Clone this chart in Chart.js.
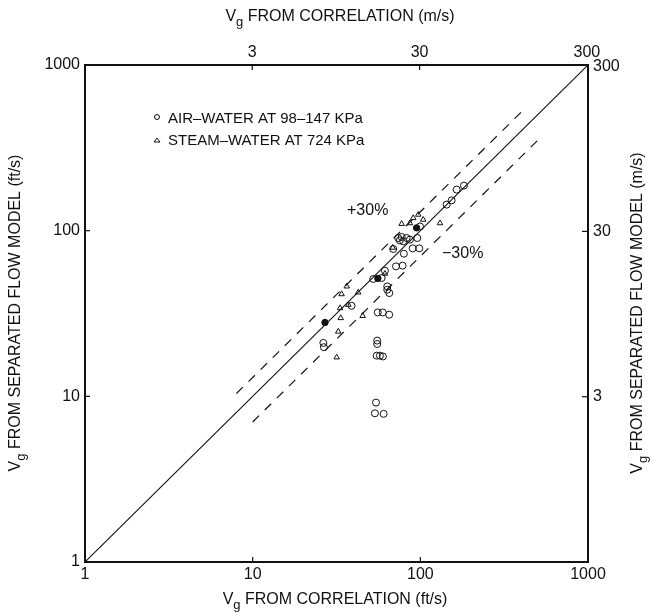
<!DOCTYPE html>
<html>
<head>
<meta charset="utf-8">
<script src="https://cdn.jsdelivr.net/npm/chart.js@4/dist/chart.umd.min.js"></script>
<style>
html,body{margin:0;padding:0;background:#fff;}
#wrap{width:652px;height:613px;position:relative;}
</style>
</head>
<body>
<div id="wrap"><canvas id="c" width="652" height="613"></canvas></div>
<script>
// ---- data (ft/s) ----
const airWaterX = [54.4,53.6,60.4,55.3,55.3,54.9,57.4,59.8,55.7,59.7,65.2,63.5,65.3,63.5,61.5,58.8,52.4,71.6,78.4,79.8,68.9,90,98.5,95.9,73.8,77.4,82.8,86.7,79.1,75.5,143.5,153.7,164.6,182,26.4,26.6,38.9,99.6];
const airWaterY = [9.17,7.9,7.84,21.7,20.7,17.6,17.6,17.4,32.1,32.1,31.1,46.1,42.0,44.0,57.3,51.8,51.1,60.9,61.5,72.6,77.5,78.2,78.2,90.3,90.3,91.6,90.3,88.3,86.2,87.4,143.6,152.4,177,187,21,19.8,35.2,106];
const steamWaterX = [45.3,36.4,33.9,42.6,33.2,33.5,32.4,31.7,37.2,86.7,90.7,97.2,104,131,77.4,61.5,68.5];
const steamWaterY = [30.6,46.1,41.4,42.4,34.1,29.7,24.6,17.2,35.7,111,119.3,125,116.5,111,110,55,79];
const overlapX = [27,55.8,95];
const overlapY = [27.9,51.5,104];
const equalityX = [1,1000];
const equalityY = [1,1000];
const plus30X = [8,400];
const plus30Y = [10.4,520];
const minus30X = [10,500];
const minus30Y = [7,350];
const ftTicks = [1,10,100,1000];
const msTicks = [3,30,300];
const FT_PER_M = 3.2808;
const legendLabels = ['AIR\u2013WATER AT 98\u2013147 KPa','STEAM\u2013WATER AT 724 KPa'];

const pts = (xs, ys) => xs.map((x,i)=>({x, y: ys[i]}));
const INK = '#111';
const FONT = '"Liberation Sans", Arial, sans-serif';

function drawVg(ctx, rest, x, y, size) {
  // draws "V" + subscript "g" + rest, centered at (x,y)
  ctx.save();
  ctx.textBaseline = 'middle';
  ctx.textAlign = 'left';
  const big = size + 'px ' + FONT;
  const small = Math.round(size*0.8) + 'px ' + FONT;
  ctx.font = big; const wV = ctx.measureText('V').width;
  ctx.font = small; const wg = ctx.measureText('g').width;
  ctx.font = big; const wr = ctx.measureText(rest).width;
  const total = wV + wg + wr;
  let cx = x - total/2;
  ctx.fillStyle = INK;
  ctx.font = big; ctx.fillText('V', cx, y); cx += wV;
  ctx.font = small; ctx.fillText('g', cx, y + size*0.35); cx += wg;
  ctx.font = big; ctx.fillText(rest, cx, y);
  ctx.restore();
}

const decor = {
  id: 'decor',
  afterDraw(chart) {
    const ctx = chart.ctx;
    const a = chart.chartArea;
    const sx = chart.scales.x, sy = chart.scales.y, sx2 = chart.scales.x2, sy2 = chart.scales.y2;
    ctx.save();
    ctx.strokeStyle = INK; ctx.lineWidth = 1.2;
    // inward tick marks
    [10,100].forEach(v => {
      const px = sx.getPixelForValue(v);
      ctx.beginPath(); ctx.moveTo(px, a.bottom); ctx.lineTo(px, a.bottom-5); ctx.stroke();
      const py = sy.getPixelForValue(v);
      ctx.beginPath(); ctx.moveTo(a.left, py); ctx.lineTo(a.left+5, py); ctx.stroke();
    });
    [3,30].forEach(v => {
      const px = sx2.getPixelForValue(v);
      ctx.beginPath(); ctx.moveTo(px, a.top); ctx.lineTo(px, a.top+5); ctx.stroke();
      const py = sy2.getPixelForValue(v);
      ctx.beginPath(); ctx.moveTo(a.right, py); ctx.lineTo(a.right-6, py); ctx.stroke();
    });
    // axis titles
    drawVg(ctx, ' FROM CORRELATION (m/s)', 340, 17, 16);
    drawVg(ctx, ' FROM CORRELATION (ft/s)', 335, 600, 16);
    ctx.save(); ctx.translate(16, 313); ctx.rotate(-Math.PI/2);
    drawVg(ctx, ' FROM SEPARATED FLOW MODEL (ft/s)', 0, 0, 16); ctx.restore();
    ctx.save(); ctx.translate(638, 313); ctx.rotate(-Math.PI/2);
    drawVg(ctx, ' FROM SEPARATED FLOW MODEL (m/s)', 0, 0, 16); ctx.restore();
    // legend
    ctx.fillStyle = INK; ctx.font = '15px ' + FONT; ctx.textBaseline = 'middle'; ctx.textAlign = 'left';
    ctx.lineWidth = 1;
    ctx.beginPath(); ctx.arc(157, 117, 2.5, 0, Math.PI*2); ctx.stroke();
    ctx.fillText(legendLabels[0], 168, 119);
    ctx.beginPath(); ctx.moveTo(154, 142); ctx.lineTo(160, 142); ctx.lineTo(157, 138); ctx.closePath(); ctx.stroke();
    ctx.fillText(legendLabels[1], 168, 141);
    // band labels
    ctx.font = '16px ' + FONT;
    ctx.fillText('+30%', 347, 211);
    ctx.fillText('\u221230%', 442, 254);
    ctx.restore();
  }
};

const tickFont = {family: FONT, size: 16};
function fixTicks(vals) { return scale => { scale.ticks = vals.map(v => ({value: v})); }; }

new Chart(document.getElementById('c'), {
  type: 'scatter',
  data: {
    datasets: [
      {label: legendLabels[0], data: pts(airWaterX, airWaterY), pointStyle: 'circle', pointRadius: 3.5,
       borderColor: INK, backgroundColor: 'rgba(0,0,0,0)', borderWidth: 1},
      {label: legendLabels[1], data: pts(steamWaterX, steamWaterY), pointStyle: 'triangle', pointRadius: 3.2,
       borderColor: INK, backgroundColor: 'rgba(0,0,0,0)', borderWidth: 1},
      {label: 'overlap', data: pts(overlapX, overlapY), pointStyle: 'circle', pointRadius: 3.2,
       borderColor: INK, backgroundColor: INK, borderWidth: 1},
      {label: 'equality', data: pts(equalityX, equalityY), showLine: true, pointRadius: 0,
       borderColor: INK, borderWidth: 1.1},
      {label: '+30%', data: pts(plus30X, plus30Y), showLine: true, pointRadius: 0,
       borderColor: INK, borderWidth: 1.2, borderDash: [9,8]},
      {label: '-30%', data: pts(minus30X, minus30Y), showLine: true, pointRadius: 0,
       borderColor: INK, borderWidth: 1.2, borderDash: [9,8]}
    ]
  },
  options: {
    responsive: false,
    animation: false,
    layout: {padding: 0},
    plugins: {legend: {display: false}, tooltip: {enabled: false}},
    scales: {
      x: {type: 'logarithmic', position: 'bottom', min: 1, max: 1000,
          afterBuildTicks: fixTicks(ftTicks), afterFit: s => { s.height = 51; },
          ticks: {font: tickFont, color: INK, padding: 3, maxRotation: 0, autoSkip: false, callback: v => String(v)},
          grid: {drawOnChartArea: false, drawTicks: false}, border: {display: true, color: INK, width: 2}},
      x2: {type: 'logarithmic', position: 'top', min: 1/FT_PER_M, max: 1000/FT_PER_M,
          afterBuildTicks: fixTicks(msTicks), afterFit: s => { s.height = 65; },
          ticks: {font: tickFont, color: INK, padding: 3, maxRotation: 0, autoSkip: false, callback: v => String(v)},
          grid: {drawOnChartArea: false, drawTicks: false}, border: {display: true, color: INK, width: 2}},
      y: {type: 'logarithmic', position: 'left', min: 1, max: 1000,
          afterBuildTicks: fixTicks(ftTicks), afterFit: s => { s.width = 85; },
          ticks: {font: tickFont, color: INK, padding: 5, autoSkip: false, callback: v => String(v)},
          grid: {drawOnChartArea: false, drawTicks: false}, border: {display: true, color: INK, width: 2}},
      y2: {type: 'logarithmic', position: 'right', min: 1/FT_PER_M, max: 1000/FT_PER_M,
          afterBuildTicks: fixTicks(msTicks), afterFit: s => { s.width = 64; },
          ticks: {font: tickFont, color: INK, padding: 5, autoSkip: false, callback: v => String(v)},
          grid: {drawOnChartArea: false, drawTicks: false}, border: {display: true, color: INK, width: 2}}
    }
  },
  plugins: [decor]
});
</script>
</body>
</html>
